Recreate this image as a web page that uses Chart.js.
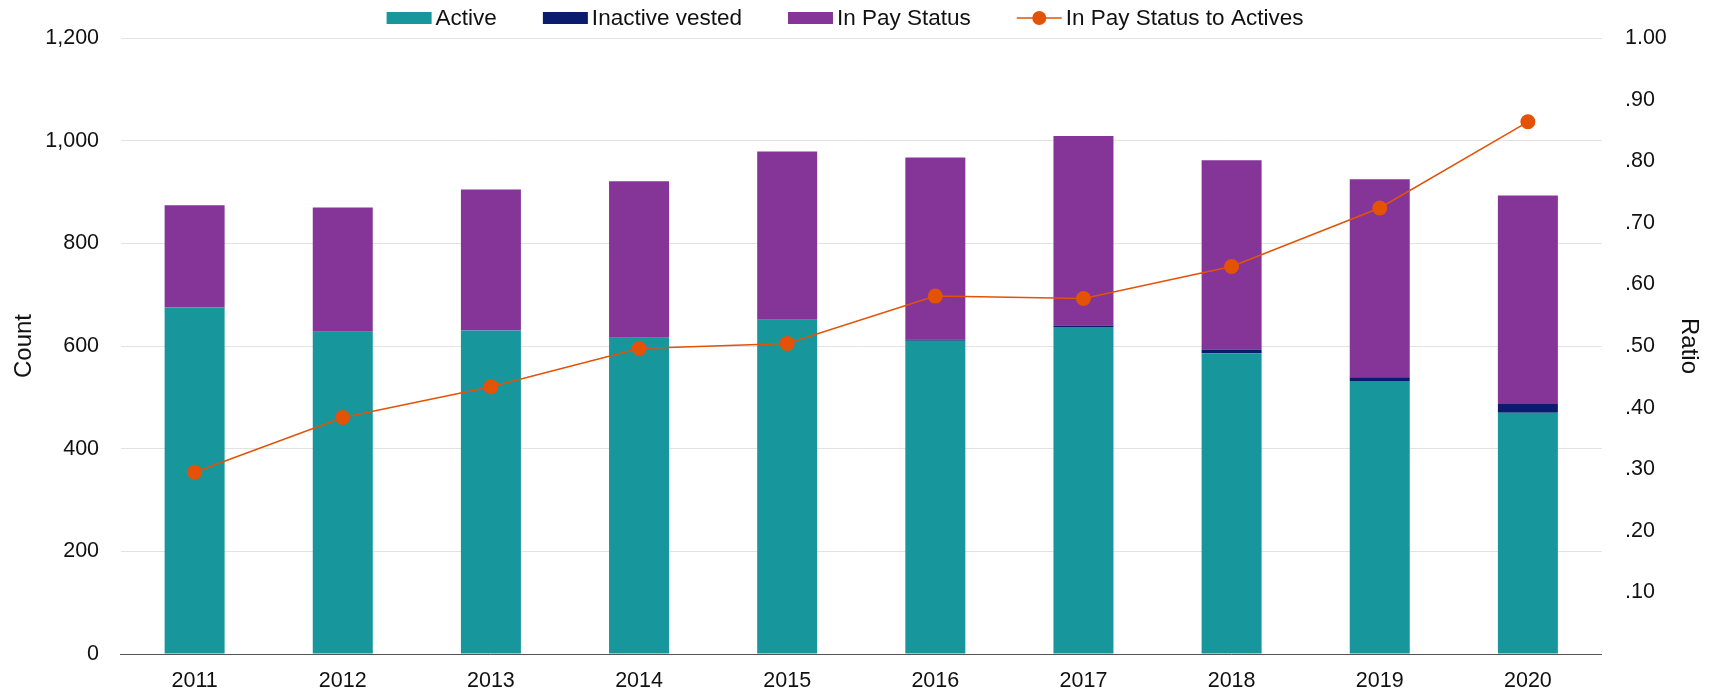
<!DOCTYPE html>
<html>
<head>
<meta charset="utf-8">
<script src="https://cdn.jsdelivr.net/npm/chart.js@4.4.1/dist/chart.umd.min.js"></script>
<style>
  html, body { margin: 0; padding: 0; background: #fff; }
  #wrap { width: 1718px; height: 691px; }
</style>
</head>
<body>
<div id="wrap"><canvas id="chart" width="1718" height="691"></canvas></div>
<script>
const years = ['2011', '2012', '2013', '2014', '2015', '2016', '2017', '2018', '2019', '2020'];
const active = [675, 628, 630, 616, 651, 610, 637, 586, 532, 470];
const inactiveVested = [0, 0, 0, 0, 0, 2, 3, 7, 7, 17];
const inPayStatus = [199, 242, 275, 305, 328, 355, 369, 369, 386, 406];
const payToActives = [0.295, 0.384, 0.434, 0.496, 0.504, 0.581, 0.577, 0.629, 0.724, 0.864];

const TEAL = '#17979c';
const NAVY = '#0b1c6e';
const PURPLE = '#843597';
const ORANGE = '#e35205';
const FONT = '"Liberation Sans", Arial, sans-serif';
const TICK_SIZE = 21.5;

Chart.defaults.font.family = FONT;
Chart.defaults.color = '#111';

// legend drawn by hand: short gap between swatch and text, dot on the line item
const topLegend = {
    id: 'topLegend',
    afterDraw(chart) {
        const ctx = chart.ctx;
        const size = 22.5, boxW = 45, boxH = 12, gap = 4, itemGap = 46, y = 18;
        ctx.save();
        ctx.font = size + 'px ' + FONT;
        ctx.textBaseline = 'middle';
        const items = chart.data.datasets.map(ds => ({
            ds: ds,
            w: boxW + gap + ctx.measureText(ds.label).width
        }));
        const total = items.reduce((s, it) => s + it.w, 0) + itemGap * (items.length - 1);
        let x = chart.width / 2 - 14 - total / 2;
        items.forEach(it => {
            const ds = it.ds;
            if (ds.type === 'line') {
                ctx.strokeStyle = ORANGE;
                ctx.lineWidth = 1.5;
                ctx.beginPath();
                ctx.moveTo(x, y);
                ctx.lineTo(x + boxW, y);
                ctx.stroke();
                ctx.fillStyle = ORANGE;
                ctx.beginPath();
                ctx.arc(x + boxW / 2, y, 7, 0, Math.PI * 2);
                ctx.fill();
            } else {
                ctx.fillStyle = ds.backgroundColor;
                ctx.fillRect(x, y - boxH / 2, boxW, boxH);
            }
            ctx.fillStyle = '#111';
            ctx.fillText(ds.label, x + boxW + gap, y + 1);
            x += it.w + itemGap;
        });
        ctx.restore();
    }
};

const barSet = (label, data, color) => ({
    type: 'bar',
    label: label,
    data: data,
    backgroundColor: color,
    stack: 'count',
    yAxisID: 'y',
    barPercentage: 0.405,
    categoryPercentage: 1,
    order: 2
});

new Chart(document.getElementById('chart'), {
    data: {
        labels: years,
        datasets: [
            barSet('Active', active, TEAL),
            barSet('Inactive vested', inactiveVested, NAVY),
            barSet('In Pay Status', inPayStatus, PURPLE),
            {
                type: 'line',
                label: 'In Pay Status to Actives',
                data: payToActives,
                yAxisID: 'y1',
                borderColor: ORANGE,
                backgroundColor: ORANGE,
                borderWidth: 1.5,
                pointRadius: 7.5,
                pointBorderWidth: 0,
                pointBackgroundColor: ORANGE,
                tension: 0,
                order: 1
            }
        ]
    },
    options: {
        responsive: false,
        animation: false,
        layout: { padding: { left: 8, right: 13, top: 38, bottom: -16.5 } },
        plugins: {
            tooltip: { enabled: false },
            legend: { display: false }
        },
        scales: {
            x: {
                stacked: true,
                grid: { display: false, drawTicks: false },
                border: { display: true, color: '#555', width: 1 },
                ticks: { font: { size: TICK_SIZE, lineHeight: 1 }, color: '#111', padding: 16 }
            },
            y: {
                stacked: true,
                position: 'left',
                min: 0,
                max: 1200,
                ticks: {
                    stepSize: 200,
                    font: { size: TICK_SIZE, lineHeight: 1 },
                    color: '#111',
                    padding: 21.5,
                    callback: v => v.toLocaleString('en-US')
                },
                grid: { color: '#e3e3e3', lineWidth: 1, drawTicks: false },
                border: { display: false },
                title: { display: true, text: 'Count', font: { size: 24, lineHeight: 1 }, color: '#111', padding: { top: 4, bottom: -12.25 } }
            },
            y1: {
                position: 'right',
                min: 0,
                max: 1,
                ticks: {
                    stepSize: 0.1,
                    font: { size: TICK_SIZE, lineHeight: 1 },
                    color: '#111',
                    padding: 23,
                    callback: v => {
                        if (v === 0) return '';
                        if (Math.abs(v - 1) < 1e-9) return '1.00';
                        return v.toFixed(2).replace(/^0/, '');
                    }
                },
                grid: { display: false, drawTicks: false },
                border: { display: false },
                title: { display: true, text: 'Ratio', font: { size: 24, lineHeight: 1 }, color: '#111', padding: { top: 4, bottom: -12.8 } }
            }
        }
    },
    plugins: [topLegend]
});
</script>
</body>
</html>
